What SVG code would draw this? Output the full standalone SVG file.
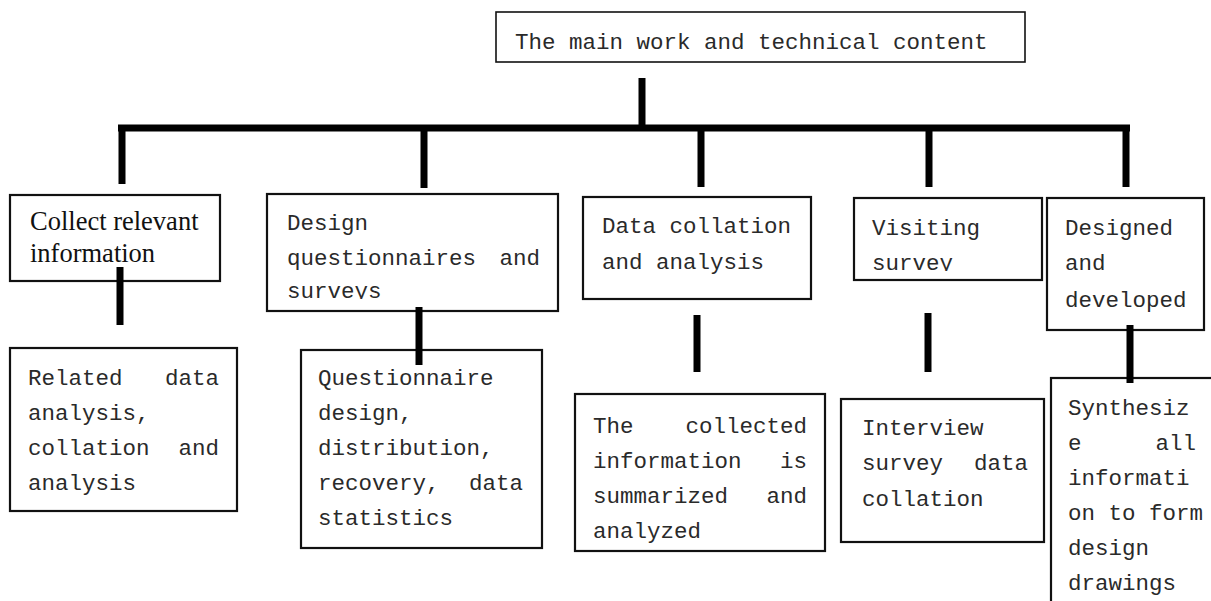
<svg xmlns="http://www.w3.org/2000/svg" width="1211" height="601" viewBox="0 0 1211 601">
<style>
.box{fill:#fff;stroke:#111;stroke-width:2.2}
.t{font-family:"Liberation Mono","Courier New",monospace;font-size:22.5px;fill:#2a2a2a}
.s{font-family:"Liberation Serif","Times New Roman",serif;font-size:26.5px;fill:#111}
.e{text-anchor:end}
.c{fill:none;stroke:#000;stroke-width:7;stroke-linecap:butt}
</style>
<defs>
<clipPath id="clip2"><rect x="267" y="194" width="291" height="105"/></clipPath>
<clipPath id="clip4"><rect x="854" y="198" width="188" height="73"/></clipPath>
</defs>
<rect width="1211" height="601" fill="#fff"/>
<g id="n0"><rect class="box" x="496" y="12" width="529" height="50" style="stroke-width:1.6"/><text class="t" x="515" y="49">The main work and technical content</text></g>
<g id="n1"><rect class="box" x="10" y="195" width="210" height="86"/><text class="s" x="30" y="230">Collect relevant</text><text class="s" x="30" y="262">information</text></g>
<g id="n2"><rect class="box" x="267" y="194" width="291" height="117"/><g clip-path="url(#clip2)"><text class="t" x="287" y="230">Design</text><text class="t" x="287" y="265">questionnaires</text><text class="t e" x="540" y="265">and</text><text class="t" x="287" y="298">surveys</text></g></g>
<g id="n3"><rect class="box" x="583" y="197" width="228" height="102"/><text class="t" x="602" y="233">Data collation</text><text class="t" x="602" y="269">and analysis</text></g>
<g id="n4"><rect class="box" x="854" y="198" width="188" height="82"/><g clip-path="url(#clip4)"><text class="t" x="872" y="235">Visiting</text><text class="t" x="872" y="270">survey</text></g></g>
<g id="n5"><rect class="box" x="1047" y="198" width="157" height="132"/><text class="t" x="1065" y="235">Designed</text><text class="t" x="1065" y="270">and</text><text class="t" x="1065" y="307">developed</text></g>
<g id="n6"><rect class="box" x="10" y="348" width="227" height="163"/><text class="t" x="28" y="385">Related</text><text class="t e" x="219" y="385">data</text><text class="t" x="28" y="420">analysis,</text><text class="t" x="28" y="455">collation</text><text class="t e" x="219" y="455">and</text><text class="t" x="28" y="490">analysis</text></g>
<g id="n7"><rect class="box" x="301" y="350" width="241" height="198"/><text class="t" x="318" y="385">Questionnaire</text><text class="t" x="318" y="420">design,</text><text class="t" x="318" y="455">distribution,</text><text class="t" x="318" y="490">recovery,</text><text class="t e" x="523" y="490">data</text><text class="t" x="318" y="525">statistics</text></g>
<g id="n8"><rect class="box" x="575" y="394" width="250" height="157"/><text class="t" x="593" y="433">The</text><text class="t e" x="807" y="433">collected</text><text class="t" x="593" y="468">information</text><text class="t e" x="807" y="468">is</text><text class="t" x="593" y="503">summarized</text><text class="t e" x="807" y="503">and</text><text class="t" x="593" y="538">analyzed</text></g>
<g id="n9"><rect class="box" x="841" y="399" width="203" height="143"/><text class="t" x="862" y="435">Interview</text><text class="t" x="862" y="470">survey</text><text class="t e" x="1028" y="470">data</text><text class="t" x="862" y="506">collation</text></g>
<g id="n10"><rect class="box" x="1051" y="378" width="180" height="240"/><text class="t" x="1068" y="415">Synthesiz</text><text class="t" x="1068" y="450">e</text><text class="t e" x="1196" y="450">all</text><text class="t" x="1068" y="485">informati</text><text class="t" x="1068" y="520">on to form</text><text class="t" x="1068" y="555">design</text><text class="t" x="1068" y="590">drawings</text></g>
<g id="connectors">
<path class="c" d="M642 78V128"/>
<path class="c" d="M118 128H1130"/>
<path class="c" d="M122 128V184M424 128V188M701 128V187M929 128V187M1126 128V187"/>
<path class="c" d="M120 267V325"/>
<path class="c" d="M419 307V365"/>
<path class="c" d="M697 315V372"/>
<path class="c" d="M928 313V372"/>
<path class="c" d="M1130 325V383"/>
</g>
</svg>
